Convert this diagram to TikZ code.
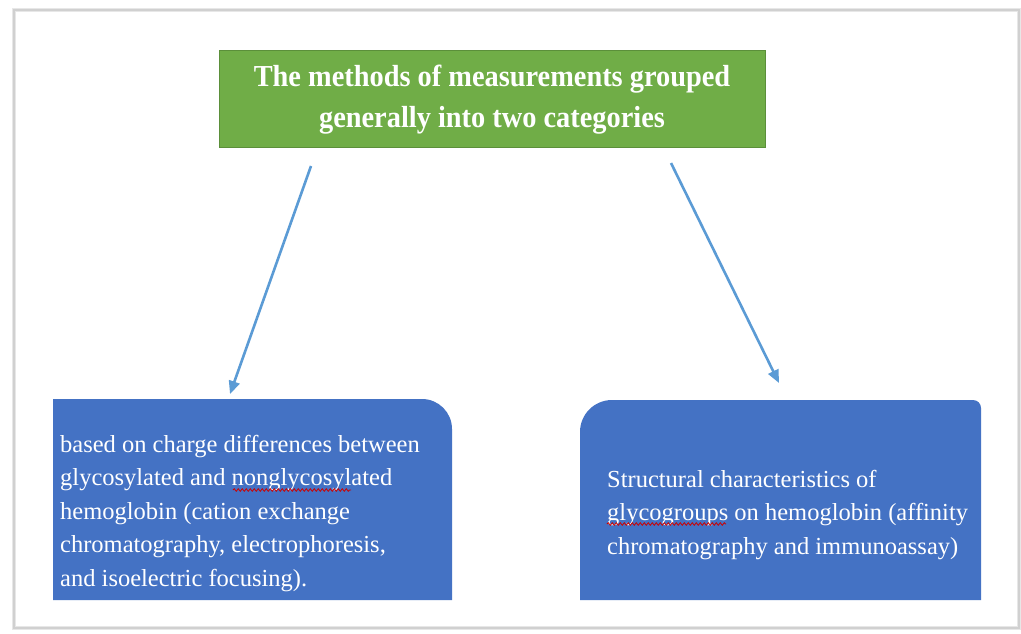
\documentclass[tikz,border=0pt]{standalone}
\usepackage{fontspec}
\setmainfont{Liberation Serif}
\newfontfamily\titlefont[FakeStretch=0.93]{Liberation Serif}
\usetikzlibrary{arrows.meta,decorations.pathmorphing}
\definecolor{boxgreen}{HTML}{70AD47}
\definecolor{boxgreenborder}{HTML}{5B8F3A}
\definecolor{boxblue}{HTML}{4472C4}
\definecolor{arrowblue}{HTML}{5B9BD5}
\definecolor{framegray}{HTML}{D0D0D0}
\tikzset{
  titlebox/.style={fill=boxgreen,draw=boxgreenborder,line width=1pt},
  bluebox/.style={fill=boxblue},
  boxtext/.style={anchor=north west,inner sep=0pt,align=left,text=white,
    font=\fontsize{24.5}{33.5}\selectfont},
  linkarrow/.style={draw=arrowblue,line width=2.6pt,-{Triangle[length=13pt,width=11pt]}},
  spellmark/.style={draw=red!80!black,line width=0.8pt,decorate,
    decoration={snake,amplitude=1.3pt,segment length=4pt}}
}
\begin{document}
\begin{tikzpicture}[x=1pt,y=-1pt]
\useasboundingbox (0,0) rectangle (1021,633);
\fill[white] (0,0) rectangle (1021,633);
% frame
\draw[draw=framegray!50,line width=4pt] (14,10) rectangle (1019,628);
\draw[draw=framegray,line width=1.5pt] (14,10) rectangle (1019,628);
% title
\node[titlebox,minimum width=546pt,minimum height=97pt,anchor=north west,inner sep=0pt] (title) at (219,50) {};
\node[text=white,align=center,inner sep=0pt,
  font=\titlefont\bfseries\fontsize{30.5}{41}\selectfont] (titletext) at (492,100)
  {The methods of measurements grouped\\generally into two categories};
% left box
\path[bluebox] (53,600) -- (53,399) -- (422,399) arc[start angle=-90,end angle=0,radius=30] -- (452,600) -- cycle;
\node[boxtext] (lefttext) at (60,435) {based on charge differences between\\glycosylated and nonglycosylated\\hemoglobin (cation exchange\\chromatography, electrophoresis,\\and isoelectric focusing).};
% right box
\path[bluebox] (580,600) -- (580,432) arc[start angle=180,end angle=270,radius=32] -- (973,400) arc[start angle=270,end angle=360,radius=8] -- (981,600) -- cycle;
\node[boxtext] (righttext) at (607,470) {Structural characteristics of\\glycogroups on hemoglobin (affinity\\chromatography and immunoassay)};
% spell-check marks
\draw[spellmark] (233,490) -- (351,490);
\draw[spellmark] (607,524) -- (726,524);
% arrows
\coordinate (ls) at (311,166);
\coordinate (le) at (230,394);
\coordinate (rs) at (671,163);
\coordinate (re) at (779,383);
\draw[linkarrow] (ls) -- (le);
\draw[linkarrow] (rs) -- (re);
\end{tikzpicture}
\end{document}
